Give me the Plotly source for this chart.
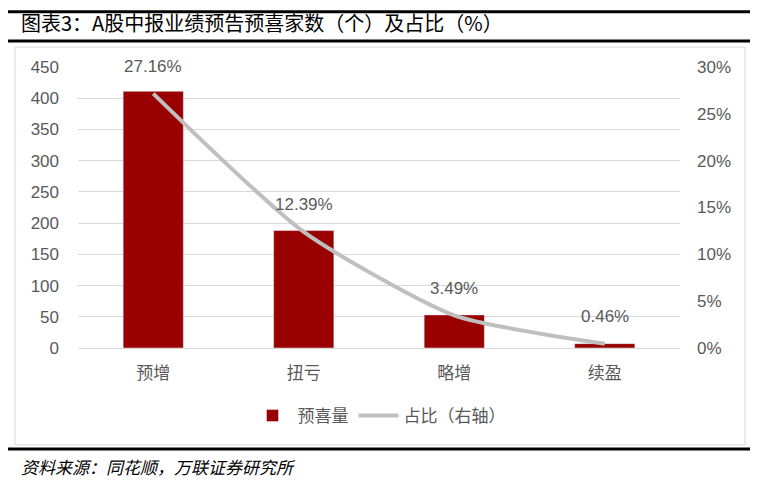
import plotly.graph_objects as go

# data
categories = ["预增", "扭亏", "略增", "续盈"]
counts = [411, 188, 53, 7]
shares = [0.2716, 0.1239, 0.0349, 0.0046]

dark_red = "#990000"
grey_line = "#BFBFBF"
tick_grey = "#595959"
cjk = "Noto Sans CJK SC"

fig = go.Figure()

fig.add_trace(go.Bar(
    x=categories, y=counts, name="预喜量",
    marker=dict(color=dark_red), width=0.4,
))

fig.add_trace(go.Scatter(
    x=categories, y=shares, name="占比（右轴）", yaxis="y2",
    mode="lines", line=dict(color=grey_line, width=4, shape="spline", smoothing=0.6),
))

# percentage labels above each point of the line
for cat, s in zip(categories, shares):
    fig.add_annotation(
        x=cat, y=s, xref="x", yref="y2", text=f"{s * 100:.2f}%",
        showarrow=False, yshift=27,
        font=dict(family="Liberation Sans", size=17, color=tick_grey),
    )

# title, source and the frame rules
fig.add_annotation(
    x=-0.098, y=1.157, xref="paper", yref="paper", xanchor="left", yanchor="middle",
    text="图表3：A股中报业绩预告预喜家数（个）及占比（%）", showarrow=False,
    font=dict(family=cjk, size=20, color="#000000"),
)
fig.add_annotation(
    x=-0.098, y=-0.423, xref="paper", yref="paper", xanchor="left", yanchor="middle",
    text="<i>资料来源：同花顺，万联证券研究所</i>", showarrow=False,
    font=dict(family=cjk, size=17, color="#000000"),
)

shapes = [
    dict(type="rect", xref="paper", yref="paper", x0=-0.1047, x1=1.108, y0=-0.345, y1=1.071,
         line=dict(color="#D9D9D9", width=1), layer="below"),
]
for yy in [1.197, 1.0925, -0.3594]:
    shapes.append(dict(type="line", xref="paper", yref="paper", x0=-0.1229, x1=1.1229,
                       y0=yy, y1=yy, line=dict(color="#000000", width=3)))

fig.update_layout(
    width=750, height=473, autosize=False,
    margin=dict(l=70, r=78, t=59, b=133),
    paper_bgcolor="white", plot_bgcolor="white",
    font=dict(family="Liberation Sans", color=tick_grey),
    showlegend=True,
    legend=dict(orientation="h", x=0.5, xanchor="center", y=-0.242, yanchor="middle",
                font=dict(family=cjk, size=17, color=tick_grey), itemwidth=40),
    xaxis=dict(showgrid=False, showline=False, ticks="", ticklabelstandoff=13,
               tickfont=dict(family=cjk, size=17, color=tick_grey)),
    yaxis=dict(range=[0, 450], dtick=50, showgrid=True, gridcolor="#D9D9D9", gridwidth=1,
               zeroline=True, zerolinecolor="#D9D9D9", zerolinewidth=1,
               ticks="", tickfont=dict(size=17, color=tick_grey), ticklabelstandoff=18),
    yaxis2=dict(range=[0, 0.30], dtick=0.05, tickformat=".0%", overlaying="y", side="right",
                showgrid=False, zeroline=False, ticks="",
                tickfont=dict(size=17, color=tick_grey), ticklabelstandoff=16),
    shapes=shapes,
)

fig.write_html("out.html")
